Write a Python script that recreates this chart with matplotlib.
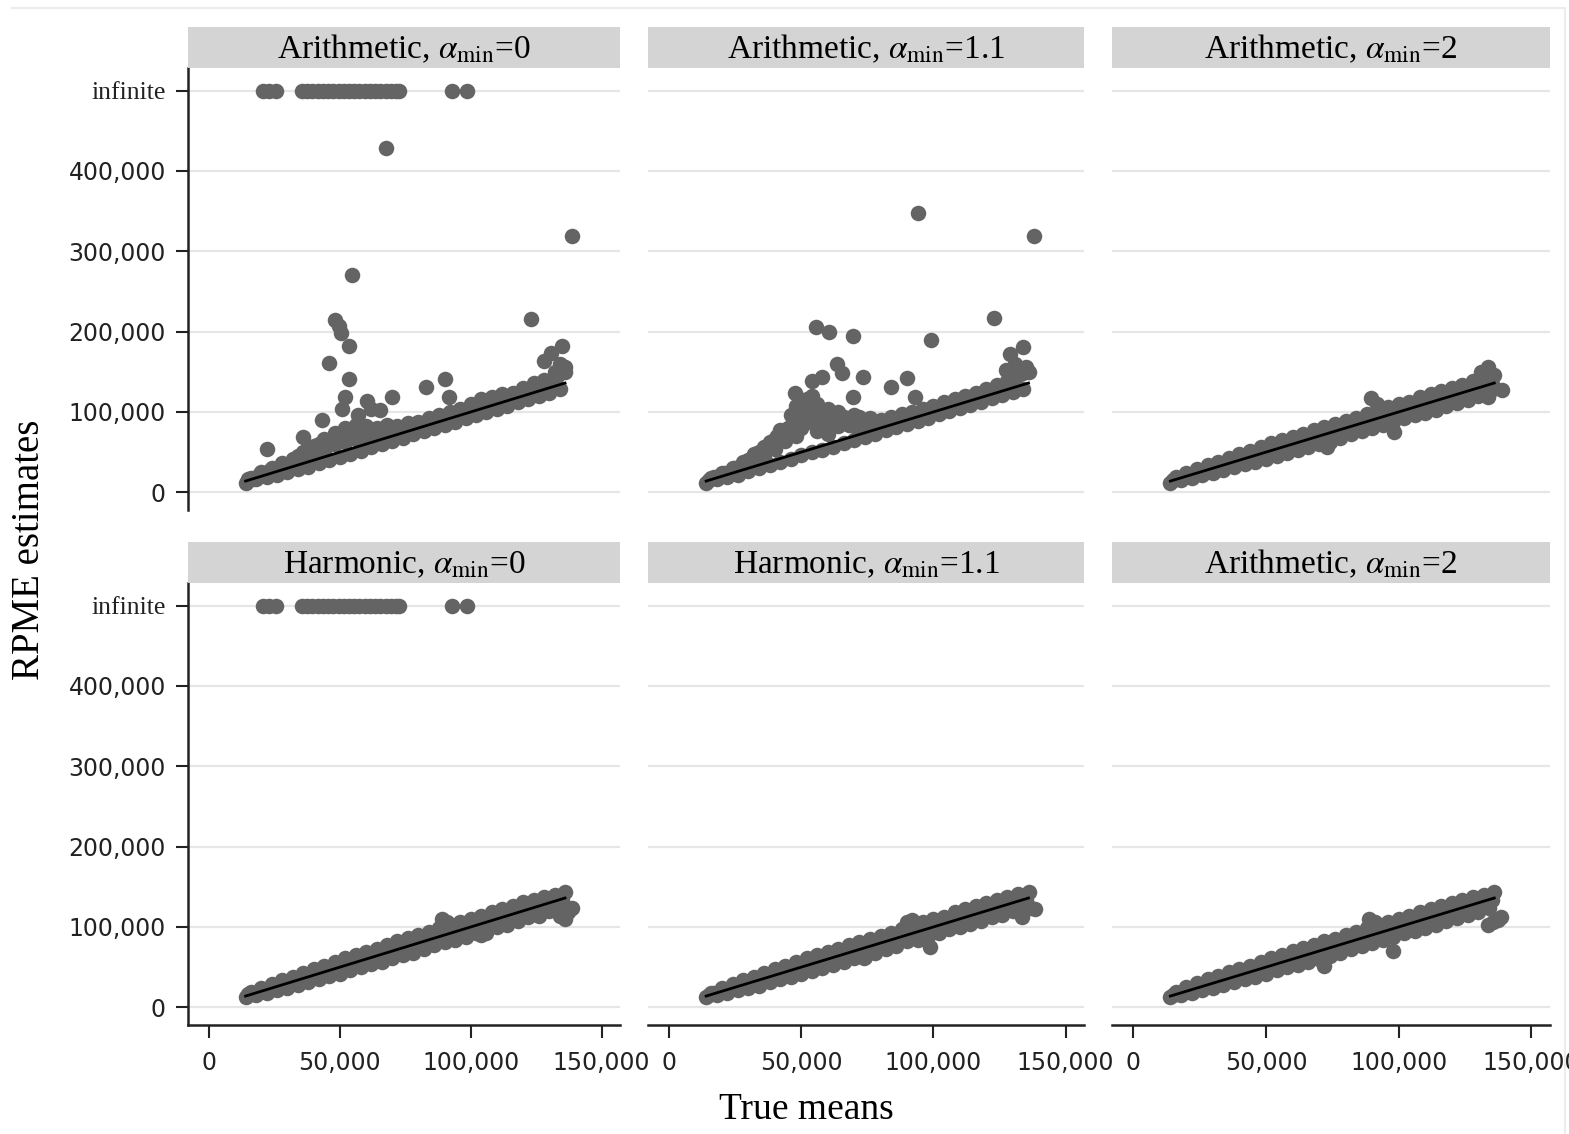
import matplotlib
matplotlib.use("Agg")
import matplotlib.pyplot as plt
import numpy as np
from matplotlib.lines import Line2D
from matplotlib.ticker import FuncFormatter

plt.rcParams["font.family"] = ["DejaVu Sans"]
plt.rcParams["mathtext.fontset"] = "stix"

SERIF = ["Liberation Serif", "DejaVu Serif"]

# position (in thousands) where infinite estimates are drawn
INFINITE = 500

# true means of the simulated populations (thousands), two interleaved sets
true_means_a = [14, 16, 18, 20, 22, 24, 26, 28, 30, 32,
                34, 36, 38, 40, 42, 44, 46, 48, 50, 52,
                54, 56, 58, 60, 62, 64, 66, 68, 70, 72,
                74, 76, 78, 80, 82, 84, 86, 88, 90, 92,
                94, 96, 98, 100, 102, 104, 106, 108, 110, 112,
                114, 116, 118, 120, 122, 124, 126, 128, 130, 132,
                134, 136]
true_means_b = [15, 17, 19, 21, 23, 25, 27, 29, 31, 33,
                35, 37, 39, 41, 43, 45, 47, 49, 51, 53,
                55, 57, 59, 61, 63, 65, 67, 69, 71, 73,
                75, 77, 79, 81, 83, 85, 87, 89, 91, 93,
                95, 97, 99, 101, 103, 105, 107, 109, 111, 113,
                115, 117, 119, 121, 123, 125, 127, 129, 131, 133,
                135]

# RPME estimates per panel (thousands)
est_arith_0_a = [11, 18, 16, 25, 19, 30, 22, 36, 25, 42,
                 29, 50, 32, 58, 36, 66, 40, 74, 44, 80,
                 48, 84, 52, 82, 56, 80, 60, 84, 64, 82,
                 68, 86, 72, 88, 76, 92, 80, 96, 84, 100,
                 88, 104, 92, 110, 96, 116, 100, 118, 104, 122,
                 108, 124, 112, 130, 116, 136, 120, 140, 124, 150,
                 128, 156]
est_arith_0_b = [16, 17, 21, 22, 26, 27, 31, 33, 36, 40,
                 44, 46, 50, 52, 56, 58, 62, 64, 66, 68,
                 72, 70, 72, 70, 72, 74, 76, 78, 78, 80,
                 80, 82, 84, 86, 88, 90, 92, 94, 96, 98,
                 100, 102, 104, 106, 108, 110, 112, 114, 116, 118,
                 120, 122, 124, 126, 128, 130, 132, 136, 140, 146,
                 150]
est_arith_11_a = [11, 18, 16, 24, 19, 30, 22, 38, 26, 48,
                  30, 56, 34, 66, 38, 76, 42, 84, 46, 88,
                  50, 86, 53, 84, 57, 82, 61, 84, 65, 84,
                  69, 86, 73, 90, 77, 94, 81, 98, 85, 100,
                  89, 104, 93, 108, 97, 112, 101, 116, 105, 120,
                  109, 124, 113, 128, 117, 134, 121, 138, 125, 146,
                  129, 150]
est_arith_11_b = [15, 19, 20, 24, 25, 30, 32, 37, 42, 48,
                  52, 58, 62, 70, 74, 80, 86, 92, 96, 100,
                  96, 92, 90, 88, 86, 88, 86, 86, 80, 82,
                  80, 82, 84, 86, 88, 90, 92, 94, 96, 98,
                  100, 102, 104, 106, 108, 110, 112, 114, 116, 118,
                  120, 122, 124, 126, 128, 130, 134, 140, 144, 152,
                  156]
est_arith_2_a = [12, 19, 15, 24, 18, 29, 21, 34, 24, 38,
                 28, 43, 31, 48, 35, 52, 38, 57, 42, 61,
                 45, 65, 49, 69, 53, 73, 56, 77, 60, 81,
                 63, 85, 68, 89, 72, 93, 76, 98, 80, 102,
                 84, 106, 88, 110, 92, 113, 96, 118, 99, 122,
                 103, 126, 107, 130, 111, 134, 115, 138, 120, 144,
                 124, 146]
est_arith_2_b = [15, 17, 19, 21, 23, 25, 27, 29, 31, 33,
                 36, 37, 40, 41, 43, 45, 48, 49, 52, 52,
                 55, 57, 60, 60, 63, 65, 66, 69, 71, 72,
                 75, 77, 80, 81, 83, 86, 87, 90, 91, 93,
                 95, 97, 99, 101, 103, 105, 107, 110, 111, 113,
                 115, 117, 119, 121, 123, 125, 127, 129, 131, 133,
                 135]
est_harm_0_a = [13, 19, 15, 24, 18, 29, 21, 34, 24, 38,
                28, 43, 31, 48, 35, 52, 39, 57, 42, 61,
                46, 65, 50, 69, 54, 73, 57, 78, 61, 82,
                65, 86, 67, 90, 73, 94, 77, 99, 81, 102,
                84, 106, 88, 110, 92, 114, 96, 118, 100, 122,
                103, 126, 108, 131, 112, 134, 114, 137, 120, 140,
                124, 143]
est_harm_0_b = [16, 17, 20, 21, 24, 25, 28, 29, 32, 33,
                36, 37, 40, 41, 44, 45, 47, 50, 51, 54,
                55, 57, 59, 62, 63, 65, 67, 70, 71, 73,
                76, 77, 79, 81, 83, 85, 88, 92, 93, 92,
                94, 96, 98, 100, 101, 103, 106, 108, 110, 112,
                115, 117, 120, 122, 123, 124, 126, 128, 130, 132,
                134]
est_harm_11_a = [13, 18, 15, 24, 18, 29, 21, 34, 24, 38,
                 27, 43, 31, 48, 35, 52, 38, 57, 42, 61,
                 45, 65, 49, 69, 53, 73, 57, 77, 61, 81,
                 63, 85, 68, 89, 73, 93, 76, 98, 82, 101,
                 84, 106, 89, 110, 92, 113, 97, 118, 100, 122,
                 104, 126, 107, 130, 112, 134, 115, 137, 120, 141,
                 124, 143]
est_harm_11_b = [15, 18, 19, 22, 23, 26, 27, 30, 31, 34,
                 35, 38, 39, 42, 43, 46, 47, 50, 51, 54,
                 55, 58, 59, 62, 63, 66, 67, 70, 70, 72,
                 74, 76, 79, 81, 84, 86, 88, 91, 93, 93,
                 94, 96, 98, 100, 102, 104, 106, 108, 110, 112,
                 114, 116, 118, 120, 122, 124, 126, 128, 130, 132,
                 134]
est_arith_2b_a = [13, 19, 15, 25, 18, 30, 21, 35, 24, 39,
                  28, 44, 31, 48, 35, 52, 38, 57, 42, 61,
                  46, 65, 50, 70, 53, 74, 56, 78, 60, 82,
                  64, 85, 68, 90, 72, 94, 76, 99, 80, 102,
                  84, 106, 87, 110, 92, 114, 95, 118, 99, 122,
                  103, 126, 107, 130, 111, 134, 115, 137, 119, 140,
                  124, 143]
est_arith_2b_b = [15, 17, 19, 21, 24, 25, 27, 30, 31, 33,
                  35, 38, 39, 42, 43, 45, 47, 50, 51, 53,
                  56, 57, 59, 61, 63, 65, 67, 69, 70, 72,
                  74, 76, 79, 81, 84, 86, 88, 92, 92, 93,
                  94, 96, 99, 100, 102, 104, 106, 108, 110, 112,
                  114, 116, 118, 119, 121, 124, 126, 128, 130, 132,
                  134]

# additional (off-band) points per panel (thousands)
extra_x_arith_0 = [22, 34, 36, 38, 40, 42, 43, 44, 46, 48, 50, 52, 54, 56, 58, 60, 62, 64, 66, 68, 70, 72, 74, 76, 78,
                   46, 48, 49.5, 50.5, 51, 52, 53.5, 53.5, 54.5, 57, 60.5, 62, 65.5, 67.5, 70, 83, 90, 91.5,
                   123, 128, 130.5, 133, 134, 135, 136, 138.5]
extra_y_arith_0 = [54, 45, 69, 52, 48, 60, 90, 55, 64, 60, 68, 62, 70, 66, 72, 68, 74, 70, 74, 72, 76, 74, 78, 76, 82,
                   161, 214, 207, 198, 104, 119, 182, 141, 270, 96, 114, 104, 102, 429, 119, 131, 141, 119,
                   216, 164, 173, 145, 160, 182, 150, 319]
extra_x_arith_11 = [30, 34, 36, 38, 40, 42, 44, 46, 48, 48, 50, 50, 52, 52, 54, 54, 56, 56, 58, 60, 60, 62, 64, 66,
                    68, 70, 72, 76,
                    47.5, 54, 55.5, 58, 60.5, 63.5, 65.5, 69.5, 69.5, 73.5, 84, 90, 93, 94, 99,
                    123, 127.5, 129, 131, 134, 134, 138]
extra_y_arith_11 = [40, 50, 44, 62, 54, 78, 64, 96, 70, 108, 100, 80, 116, 96, 120, 104, 110, 76, 96, 104, 72, 92, 100,
                    94, 90, 96, 94, 92,
                    123, 139, 206, 143, 199, 160, 148, 195, 119, 144, 131, 142, 119, 348, 190,
                    217, 152, 172, 160, 181, 148, 319]
extra_x_arith_2 = [72.9, 89.4, 91.9, 98.2, 122.3, 128.6, 131, 133.7, 133.7, 138.8]
extra_y_arith_2 = [56, 117, 110, 75, 114, 123, 150, 156, 119, 127]
extra_x_harm_0 = [89, 91, 104, 106, 134, 136, 137, 138.5]
extra_y_harm_0 = [110, 106, 90, 93, 114, 110, 118, 124]
extra_x_harm_11 = [73.8, 90, 91.8, 98.6, 133.5, 136.9, 138.5]
extra_y_harm_11 = [61, 106, 109, 75, 112, 124, 122]
extra_x_arith_2b = [71.9, 88.8, 91, 97.9, 120.4, 133.8, 135.6, 137.3, 138.5]
extra_y_arith_2b = [51, 110, 106, 70, 114, 102, 106, 109, 112]

# true means whose estimate is infinite (alpha_min = 0 panels)
infinite_x = [20.5, 23, 25.5, 35.5, 37.5, 39.5, 41.5, 43.5, 45.5, 47.5, 49.5, 51.5, 53.5,
              55.5, 57.5, 59.5, 61.5, 63.5, 65.5, 67.5, 69.5, 71.5, 72.5, 93, 98.5]

titles = [r"Arithmetic, $\alpha_{\mathrm{min}}$=0", r"Arithmetic, $\alpha_{\mathrm{min}}$=1.1",
          r"Arithmetic, $\alpha_{\mathrm{min}}$=2", r"Harmonic, $\alpha_{\mathrm{min}}$=0",
          r"Harmonic, $\alpha_{\mathrm{min}}$=1.1", r"Arithmetic, $\alpha_{\mathrm{min}}$=2"]
estimates_a = [est_arith_0_a, est_arith_11_a, est_arith_2_a, est_harm_0_a, est_harm_11_a, est_arith_2b_a]
estimates_b = [est_arith_0_b, est_arith_11_b, est_arith_2_b, est_harm_0_b, est_harm_11_b, est_arith_2b_b]
extras_x = [extra_x_arith_0, extra_x_arith_11, extra_x_arith_2, extra_x_harm_0, extra_x_harm_11, extra_x_arith_2b]
extras_y = [extra_y_arith_0, extra_y_arith_11, extra_y_arith_2, extra_y_harm_0, extra_y_harm_11, extra_y_arith_2b]
has_infinite = [True, False, False, True, False, False]

y_ticks = [0, 100, 200, 300, 400, INFINITE]
y_tick_labels = ["0", "100,000", "200,000", "300,000", "400,000", "infinite"]
x_ticks = [0, 50, 100, 150]

W, H = 1569, 1134
fig = plt.figure(figsize=(W / 100, H / 100), dpi=100)

col_left = [188, 648, 1112]
col_width = [432, 436, 438]
row_top = [68, 583]
ax_h = 442
strip_h = 41

dot_color = "#646464"
dot_size = 125
all_true = true_means_a + true_means_b

for i in range(6):
    r, c = divmod(i, 3)
    left = col_left[c] / W
    bottom = 1 - (row_top[r] + ax_h) / H
    ax = fig.add_axes([left, bottom, col_width[c] / W, ax_h / H])

    xs = np.concatenate([true_means_a, true_means_b, extras_x[i]]) * 1000
    ys = np.concatenate([estimates_a[i], estimates_b[i], extras_y[i]]) * 1000
    ax.scatter(xs, ys, s=dot_size, color=dot_color, linewidths=0, zorder=2)
    if has_infinite[i]:
        ax.scatter(np.array(infinite_x) * 1000, [INFINITE * 1000] * len(infinite_x), s=dot_size,
                   color=dot_color, linewidths=0, zorder=2)
    ends = np.array([min(all_true), max(all_true)]) * 1000
    ax.plot(ends, ends, color="black", lw=2, zorder=3)

    ax.set_xlim(-8000, 157000)
    ax.set_ylim(-22000, 528000)
    ax.set_yticks(np.array(y_ticks) * 1000)
    ax.set_xticks(np.array(x_ticks) * 1000)
    ax.grid(axis="y", color="#e6e6e6", lw=1.6, zorder=0)
    ax.grid(axis="x", visible=False)
    ax.set_axisbelow(True)
    for s in ["top", "right"]:
        ax.spines[s].set_visible(False)
    ax.spines["left"].set_visible(c == 0)
    ax.spines["bottom"].set_visible(r == 1)
    for s in ["left", "bottom"]:
        ax.spines[s].set_color("#222222")
        ax.spines[s].set_linewidth(1.8)

    ax.tick_params(axis="both", length=9, width=1.5, color="#222222",
                   labelsize=17, labelcolor="#222222", pad=7)
    ax.tick_params(axis="x", pad=10)
    if c == 0:
        ax.set_yticklabels(y_tick_labels)
        lab = ax.get_yticklabels()[-1]
        lab.set_fontfamily(SERIF)
        lab.set_fontsize(18.5)
    else:
        ax.tick_params(axis="y", left=False, labelleft=False)
    if r == 1:
        ax.xaxis.set_major_formatter(FuncFormatter(lambda v, p: f"{v:,.0f}"))
    else:
        ax.tick_params(axis="x", bottom=False, labelbottom=False)

    # facet strip
    sax = fig.add_axes([left, 1 - row_top[r] / H, col_width[c] / W, strip_h / H])
    sax.set_facecolor("#d4d4d4")
    sax.set_xticks([])
    sax.set_yticks([])
    for s in sax.spines.values():
        s.set_visible(False)
    sax.text(0.5, 0.45, titles[i], ha="center", va="center", fontsize=24,
             family=SERIF, color="black", transform=sax.transAxes)

fig.text(30 / W, 1 - 550 / H, "RPME estimates", rotation=90, ha="center", va="center",
         fontsize=28, family=SERIF)
fig.text(806 / W, 1 - 1110 / H, "True means", ha="center", va="center",
         fontsize=27, family=SERIF)

# faint outer frame
fig.add_artist(Line2D([12 / W, 1565 / W], [1 - 8 / H, 1 - 8 / H], transform=fig.transFigure,
                      color="#ececec", lw=1.5))
fig.add_artist(Line2D([1565 / W, 1565 / W], [0, 1 - 8 / H], transform=fig.transFigure,
                      color="#ececec", lw=1.5))

fig.savefig("out.png", dpi=100, facecolor="white")
